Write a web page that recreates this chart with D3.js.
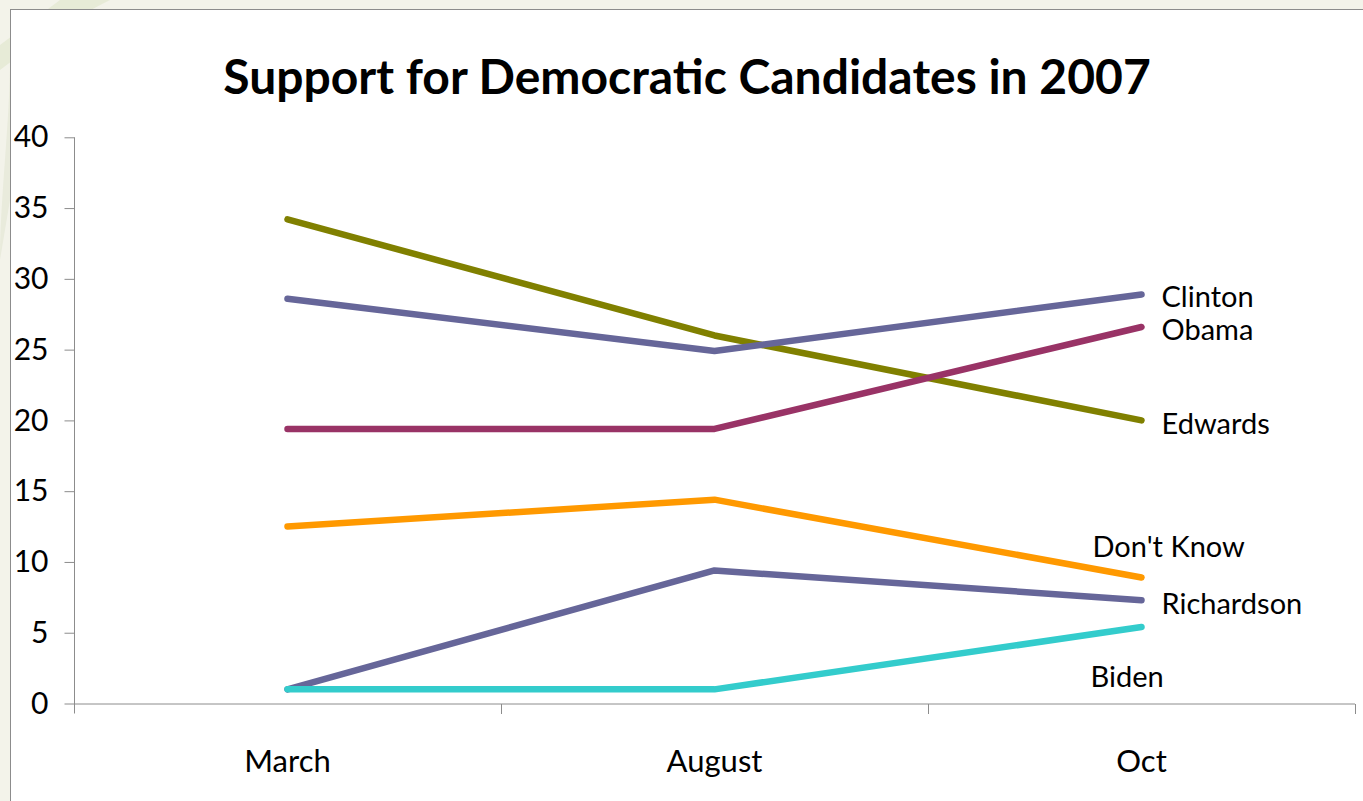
<!DOCTYPE html>
<html>
<head>
<meta charset="utf-8">
<script src="https://cdn.jsdelivr.net/npm/d3@7"></script>
<style>
  html, body { margin: 0; padding: 0; background: #f3f3ea; overflow: hidden; }
  svg { display: block; }
</style>
</head>
<body>
<svg id="chart" width="1363" height="801"></svg>
<script>
// ---- data ----
const categories = ["March", "August", "Oct"];
const seriesNames = ["Edwards", "Clinton", "Obama", "Don't Know", "Richardson", "Biden"];
const edwards    = [34.2, 26.0, 20.0];
const clinton    = [28.6, 24.9, 28.9];
const obama      = [19.4, 19.4, 26.6];
const dontKnow   = [12.5, 14.4, 8.9];
const richardson = [1.0, 9.4, 7.3];
const biden      = [1.0, 1.0, 5.4];
const yTicks = [0, 5, 10, 15, 20, 25, 30, 35, 40];
const title = "Support for Democratic Candidates in 2007";

// ---- styles ----
const seriesValues = [edwards, clinton, obama, dontKnow, richardson, biden];
const colors = ["#808000", "#666699", "#993366", "#FF9900", "#666699", "#33CCCC"];
const labelOffsets = [ // dx, dy from last point
  [20, 2], [20, 1], [20, 2], [-49, -32], [20, 2], [-51, 48]
];
const font = "Lato, 'Open Sans', sans-serif";

const svg = d3.select("#chart");

// decorative background swooshes
svg.append("rect").attr("width", 1363).attr("height", 801).attr("fill", "#f3f3ea");
svg.append("path").attr("d", "M0,70 C40,40 70,20 110,0 L60,0 C40,15 20,30 0,45 Z").attr("fill", "#e4e8d2").attr("opacity", 0.8);
svg.append("path").attr("d", "M0,260 C0,200 10,120 10,60 L10,200 Z").attr("fill", "#e9ebdc");

// chart box
svg.append("rect")
  .attr("x", 10.5).attr("y", 9.5)
  .attr("width", 1400).attr("height", 900)
  .attr("fill", "#ffffff").attr("stroke", "#8c8c8c").attr("stroke-width", 1);

const mLeft = 74, mRight = 1355, mTop = 137.3, mBottom = 703.5;

const x = d3.scaleBand().domain(categories).range([mLeft, mRight]).padding(0);
const y = d3.scaleLinear().domain([0, 40]).range([mBottom, mTop]);

// title
svg.append("text")
  .attr("x", 687).attr("y", 94)
  .attr("text-anchor", "middle")
  .attr("font-family", font).attr("font-weight", "bold")
  .attr("font-size", 48).attr("fill", "#000")
  .text(title);

// y axis
const yAxis = d3.axisLeft(y).tickValues(yTicks).tickSize(10).tickPadding(16).tickFormat(d3.format("d"));
const yg = svg.append("g").attr("transform", `translate(${mLeft + 0.5},0)`).call(yAxis);
yg.select(".domain").attr("stroke", "#8c8c8c").attr("d", `M0,${mTop}V${mBottom + 10}`);
yg.selectAll(".tick line").attr("stroke", "#8c8c8c");
yg.selectAll(".tick text").attr("font-family", font).attr("font-size", 30).attr("fill", "#000");

// x axis
const xAxis = d3.axisBottom(x).tickSize(0).tickPadding(46);
const xg = svg.append("g").attr("transform", `translate(0,${mBottom + 0.5})`).call(xAxis);
xg.select(".domain").attr("stroke", "#8c8c8c").attr("d", `M${mLeft},0H${mRight}`);
xg.selectAll(".tick text").attr("font-family", font).attr("font-size", 31).attr("fill", "#000");
// category boundary ticks
const boundaries = categories.slice(1).map(c => x(c)).concat([mRight]);
xg.selectAll(".bnd").data(boundaries).enter().append("line")
  .attr("x1", d => d + 0.5).attr("x2", d => d + 0.5).attr("y1", 0).attr("y2", 10)
  .attr("stroke", "#8c8c8c");

// lines
const line = d3.line()
  .x((d, i) => x(categories[i]) + x.bandwidth() / 2)
  .y(d => y(d));

svg.append("g").selectAll("path").data(seriesValues).enter().append("path")
  .attr("d", d => line(d))
  .attr("fill", "none")
  .attr("stroke", (d, i) => colors[i])
  .attr("stroke-width", 6.5)
  .attr("stroke-linecap", "round")
  .attr("stroke-linejoin", "round");

// labels
const lastCat = categories[categories.length - 1];
svg.append("g").selectAll("text").data(seriesNames).enter().append("text")
  .attr("x", (d, i) => x(lastCat) + x.bandwidth() / 2 + labelOffsets[i][0])
  .attr("y", (d, i) => y(seriesValues[i][seriesValues[i].length - 1]) + labelOffsets[i][1])
  .attr("dominant-baseline", "central")
  .attr("font-family", font).attr("font-size", 29).attr("fill", "#000")
  .text(d => d);
</script>
</body>
</html>
